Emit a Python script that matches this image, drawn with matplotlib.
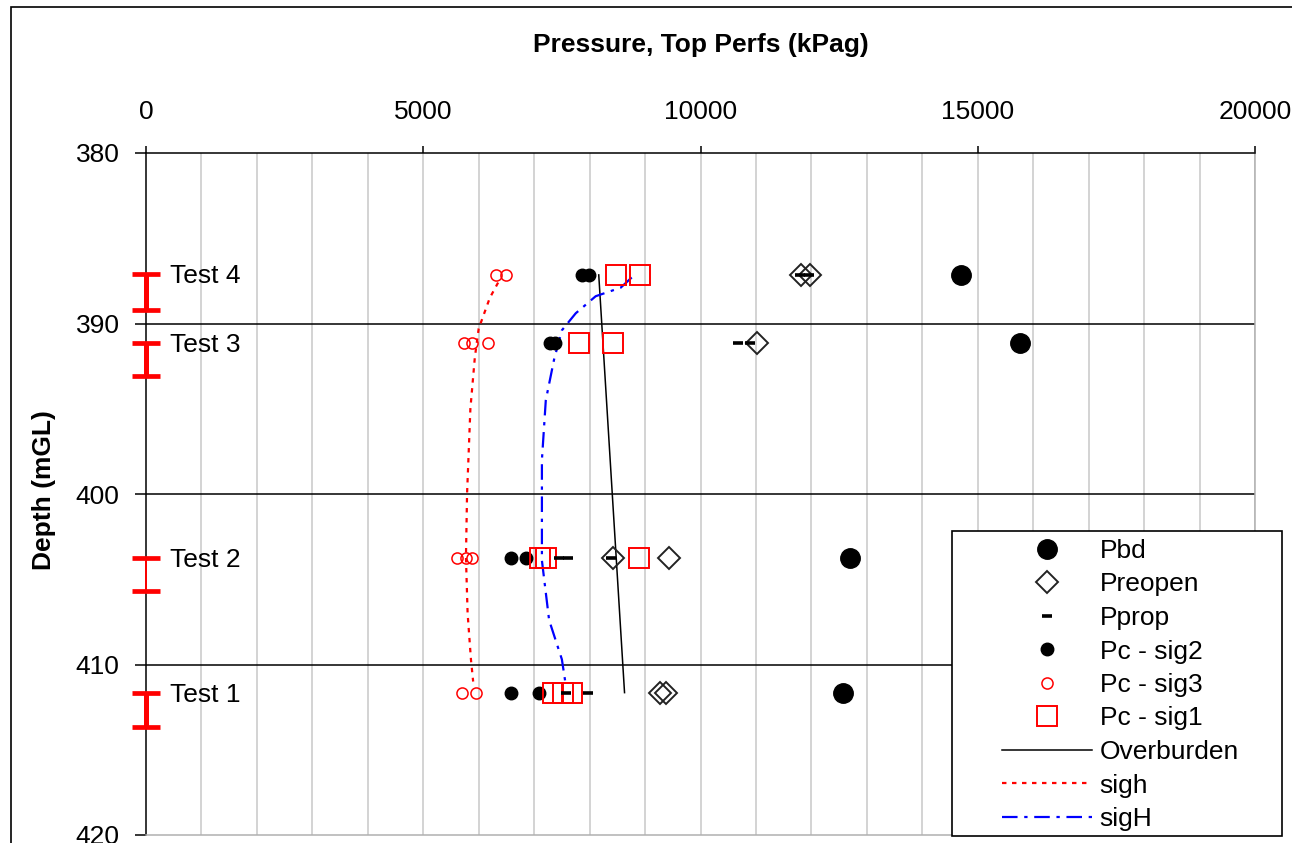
import matplotlib
matplotlib.use("Agg")
import matplotlib.pyplot as plt
from matplotlib.patches import Rectangle

plt.rcParams["font.family"] = ["Liberation Sans", "DejaVu Sans"]

# perforated intervals (mGL)
test_names = ["Test 1", "Test 2", "Test 3", "Test 4"]
perf_top = [411.7, 403.75, 391.15, 387.1]
perf_bottom = [413.65, 405.7, 393.1, 389.2]
perf_lw = [3.6, 1.4, 3.6, 3.6]

# breakdown pressure
pbd_depth = [411.65, 403.75, 391.15, 387.15]
pbd = [12570, 12700, 15770, 14690]

# reopening pressure
preopen_depth = [411.65, 411.65, 403.75, 403.75, 391.15, 387.15, 387.15]
preopen = [9270, 9370, 8420, 9440, 11010, 11820, 11980]

# propagation pressure
pprop_depth = [411.65, 411.65, 403.75, 403.75, 403.75, 391.15, 391.15, 387.15, 387.15]
pprop = [7570, 7970, 7450, 7610, 8380, 10680, 10900, 11800, 11950]

# closure picks
sig2_depth = [411.65, 411.65, 403.75, 403.75, 391.15, 391.15, 387.15, 387.15]
sig2 = [6580, 7090, 6580, 6850, 7280, 7380, 7860, 7990]
sig3_depth = [411.65, 411.65, 403.75, 403.75, 403.75, 391.15, 391.15, 391.15, 387.15, 387.15]
sig3 = [5700, 5950, 5610, 5770, 5880, 5740, 5880, 6170, 6310, 6490]
sig1_depth = [411.65, 411.65, 411.65, 403.75, 403.75, 403.75, 391.15, 391.15, 387.15, 387.15]
sig1 = [7340, 7520, 7680, 7100, 7210, 8890, 7800, 8420, 8470, 8900]

# stress profiles
overburden_depth = [387.15, 411.65]
overburden = [8165, 8630]
sigh_depth = [387.6, 388.5, 390.3, 392.0, 395.0, 400.0, 403.7, 407.0, 409.7, 411.0]
sigh = [6350, 6200, 6000, 5930, 5850, 5790, 5770, 5800, 5860, 5900]
sigH_depth = [387.3, 387.9, 388.4, 389.4, 390.4, 392.1, 394.5, 398.0, 403.9, 407.4, 409.7, 411.2]
sigH = [8760, 8560, 8110, 7750, 7500, 7360, 7210, 7140, 7140, 7270, 7500, 7570]

FS = 19

fig = plt.figure(figsize=(12.92, 8.43), dpi=100)
ax = fig.add_axes([146 / 1292, 8 / 843, 1109 / 1292, 682 / 843])

# gridlines
for xv in range(1000, 20001, 1000):
    ax.axvline(xv, color="#c8c8c8", lw=1.1, zorder=0)
for yv in [390, 400, 410]:
    ax.axhline(yv, color="black", lw=1.1, zorder=0.5)

ax.plot(overburden, overburden_depth, color="black", lw=1.1, label="Overburden", zorder=2)
ax.plot(sigh, sigh_depth, color="#ff0000", lw=1.6, ls=(0, (2, 2.5)), label="sigh", zorder=2)
ax.plot(sigH, sigH_depth, color="#0000ff", lw=1.6, ls=(0, (7, 3, 1.5, 3)), label="sigH", zorder=2)

ax.plot(pbd, pbd_depth, ls="none", marker="o", ms=14, color="black", label="Pbd", zorder=3)
ax.plot(preopen, preopen_depth, ls="none", marker="D", ms=11, mfc="none", mec="#222222",
        mew=1.4, label="Preopen", zorder=3)
ax.plot(pprop, pprop_depth, ls="none", marker="_", ms=7, mew=2.6, color="black", label="Pprop", zorder=4)
ax.plot(sig2, sig2_depth, ls="none", marker="o", ms=9, color="black", label="Pc - sig2", zorder=3)
ax.plot(sig3, sig3_depth, ls="none", marker="o", ms=8, mfc="none", mec="#ff0000", mew=1.1,
        label="Pc - sig3", zorder=3)
ax.plot(sig1, sig1_depth, ls="none", marker="s", ms=15, mfc="none", mec="#ff0000", mew=1.4,
        label="Pc - sig1", zorder=3)

# perforated intervals on the depth axis
for name, top, bot, lw in zip(test_names, perf_top, perf_bottom, perf_lw):
    mid = (top + bot) / 2
    ax.errorbar([0], [mid], yerr=[(bot - top) / 2], fmt="none", ecolor="#ff0000",
                elinewidth=lw, capsize=10, capthick=3.4, clip_on=False, zorder=5)
    ax.text(430, top + 0.1, name, fontsize=FS, va="center", ha="left")

ax.set_xlim(0, 20000)
ax.set_ylim(420, 380)
ax.set_xticks(range(0, 20001, 5000))
ax.set_yticks(range(380, 421, 10))

ax.xaxis.tick_top()
ax.xaxis.set_label_position("top")
ax.tick_params(axis="x", direction="out", length=5, width=1.1, pad=16, labelsize=FS)
ax.tick_params(axis="y", direction="out", length=8, width=1.1, pad=11, labelsize=FS)

for side in ["top", "left"]:
    ax.spines[side].set_color("black")
    ax.spines[side].set_linewidth(1.1)
for side in ["right", "bottom"]:
    ax.spines[side].set_color("#b0b0b0")
    ax.spines[side].set_linewidth(1.1)

ax.set_xlabel("Pressure, Top Perfs (kPag)", fontsize=FS, fontweight="bold")
ax.set_ylabel("Depth (mGL)", fontsize=FS, fontweight="bold")
ax.xaxis.set_label_coords(0.5, 1.158)
ax.xaxis.label.set_va("center")
ax.yaxis.set_label_coords(-0.092, 0.506)
ax.yaxis.label.set_va("center")

# legend box
fig.patches.append(Rectangle((952 / 1292, 7 / 843), 330 / 1292, 305 / 843,
                             transform=fig.transFigure, facecolor="white",
                             edgecolor="black", lw=1.2, zorder=10))

handles, labels = ax.get_legend_handles_labels()
order = ["Pbd", "Preopen", "Pprop", "Pc - sig2", "Pc - sig3", "Pc - sig1",
         "Overburden", "sigh", "sigH"]
hmap = dict(zip(labels, handles))
leg = fig.legend([hmap[k] for k in order], order, loc="upper left",
                 bbox_to_anchor=(1002 / 1292, 1 - 539 / 843), frameon=False,
                 fontsize=FS, borderpad=0, borderaxespad=0, handlelength=3.4,
                 handletextpad=0.3, labelspacing=0.36, numpoints=1)
leg.set_zorder(11)

# outer border
fig.patches.append(Rectangle((11 / 1292, -0.1), 1.2, 1.1 - 7 / 843,
                             transform=fig.transFigure, fill=False,
                             edgecolor="black", lw=1.2))

fig.savefig("out.png", dpi=100)
